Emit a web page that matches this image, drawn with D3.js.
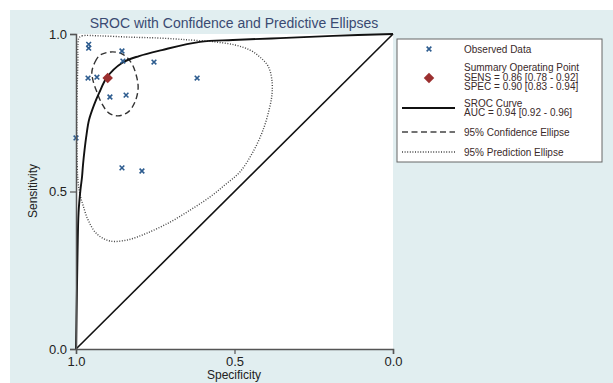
<!DOCTYPE html>
<html lang="en">
<head>
<meta charset="UTF-8">
<title>SROC with Confidence and Predictive Ellipses</title>
<script src="https://d3js.org/d3.v7.min.js"></script>
<style>
    body { margin: 0; background: #ffffff; font-family: Arial, "Liberation Sans", sans-serif; }
    svg { display: block; }
</style>
</head>
<body>
<script>
// observed studies: [specificity, sensitivity]
const observed = [
    [0.960, 0.967], [0.960, 0.955], [0.855, 0.946], [0.852, 0.914],
    [0.754, 0.911], [0.962, 0.860], [0.934, 0.863], [0.618, 0.860],
    [0.893, 0.800], [0.842, 0.806], [1.000, 0.670], [0.855, 0.575],
    [0.792, 0.565]
];

const summaryPoint = [0.90, 0.86];

// SROC curve
const srocCurve = [
    [1.000, 0.000], [0.9975, 0.156], [0.995, 0.314], [0.992, 0.432],
    [0.986, 0.505], [0.981, 0.546], [0.978, 0.584], [0.973, 0.632],
    [0.967, 0.679], [0.959, 0.727], [0.943, 0.775], [0.927, 0.813],
    [0.902, 0.863], [0.855, 0.908], [0.801, 0.930], [0.729, 0.949],
    [0.609, 0.975], [0.505, 0.981], [0.356, 0.987], [0.189, 0.994],
    [0.000, 1.000]
];

const confEllipse = [
    [0.950, 0.879], [0.940, 0.911], [0.924, 0.933], [0.890, 0.943],
    [0.855, 0.937], [0.827, 0.911], [0.811, 0.873], [0.804, 0.829],
    [0.814, 0.784], [0.836, 0.752], [0.868, 0.740], [0.896, 0.749],
    [0.918, 0.778], [0.934, 0.816], [0.946, 0.851]
];

const predEllipse = [
    [0.991, 0.987], [0.981, 0.994], [0.924, 0.994], [0.830, 0.990],
    [0.735, 0.987], [0.640, 0.981], [0.562, 0.975], [0.498, 0.965],
    [0.451, 0.949], [0.420, 0.927], [0.394, 0.898], [0.382, 0.854],
    [0.382, 0.806], [0.391, 0.759], [0.410, 0.695], [0.442, 0.625],
    [0.483, 0.562], [0.530, 0.521], [0.577, 0.483], [0.640, 0.441],
    [0.703, 0.403], [0.776, 0.368], [0.839, 0.346], [0.893, 0.343],
    [0.934, 0.365], [0.962, 0.410], [0.978, 0.457], [0.987, 0.489],
    [0.994, 0.537], [0.997, 0.632], [0.997, 0.790], [0.994, 0.917],
    [0.994, 0.965]
];

const tickValues = [0, 0.5, 1];

const legendRows = [
    { type: "observed", lines: ["Observed Data"] },
    { type: "summary", lines: ["Summary Operating Point", "SENS = 0.86 [0.78 - 0.92]", "SPEC = 0.90 [0.83 - 0.94]"] },
    { type: "sroc", lines: ["SROC Curve", "AUC = 0.94 [0.92 - 0.96]"] },
    { type: "conf", lines: ["95% Confidence Ellipse"] },
    { type: "pred", lines: ["95% Prediction Ellipse"] }
];

const W = 613, H = 383;
const plot = { left: 76, right: 393, top: 34, bottom: 349 };

const svg = d3.select("body").append("svg")
    .attr("width", W)
    .attr("height", H);

// light backdrop with white strip top/left
svg.append("rect")
    .attr("x", 10).attr("y", 10)
    .attr("width", W - 10).attr("height", H - 10)
    .attr("fill", "#e1eef0");

svg.append("rect")
    .attr("x", plot.left).attr("y", plot.top)
    .attr("width", plot.right - plot.left)
    .attr("height", plot.bottom - plot.top)
    .attr("fill", "#ffffff");

const x = d3.scaleLinear().domain([1, 0]).range([plot.left, plot.right]);
const y = d3.scaleLinear().domain([0, 1]).range([plot.bottom, plot.top]);

const line = d3.line()
    .x(d => x(d[0]))
    .y(d => y(d[1]));

// chance diagonal
svg.append("path")
    .datum([[1, 0], [0, 1]])
    .attr("d", line)
    .attr("fill", "none")
    .attr("stroke", "#111")
    .attr("stroke-width", 1.6);

// prediction region
svg.append("path")
    .datum(predEllipse)
    .attr("d", line.curve(d3.curveCatmullRomClosed))
    .attr("fill", "none")
    .attr("stroke", "#444")
    .attr("stroke-width", 1.4)
    .attr("stroke-dasharray", "1,1.6");

// confidence region
svg.append("path")
    .datum(confEllipse)
    .attr("d", line.curve(d3.curveCatmullRomClosed))
    .attr("fill", "none")
    .attr("stroke", "#333")
    .attr("stroke-width", 1.4)
    .attr("stroke-dasharray", "6,3.5");

// SROC curve
svg.append("path")
    .datum(srocCurve)
    .attr("d", line.curve(d3.curveCatmullRom))
    .attr("fill", "none")
    .attr("stroke", "#111")
    .attr("stroke-width", 1.9);

// observed studies
const cross = d3.symbol().type(d3.symbolTimes).size(16);
const drawCross = sel => sel
    .attr("d", cross)
    .attr("fill", "none")
    .attr("stroke", "#2d5c8f")
    .attr("stroke-width", 1.6);

svg.append("g").selectAll("path")
    .data(observed)
    .join("path")
    .attr("transform", d => `translate(${x(d[0])},${y(d[1])})`)
    .call(drawCross);

// summary operating point
const diamond = d3.symbol().type(d3.symbolDiamond2).size(70);
svg.append("path")
    .attr("transform", `translate(${x(summaryPoint[0])},${y(summaryPoint[1])})`)
    .attr("d", diamond)
    .attr("fill", "#9b2f2f");

// axes
const yAxis = svg.append("g")
    .attr("transform", `translate(${plot.left},0)`)
    .call(d3.axisLeft(y).tickValues(tickValues).tickFormat(d3.format(".1f")).tickSize(6).tickPadding(3));

const xAxis = svg.append("g")
    .attr("transform", `translate(0,${plot.bottom})`)
    .call(d3.axisBottom(x).tickValues(tickValues).tickFormat(d3.format(".1f")).tickSize(5).tickPadding(3));

[yAxis, xAxis].forEach(a => {
    a.select(".domain").attr("stroke", "#555").attr("stroke-width", 1.5);
    a.selectAll(".tick line").attr("stroke", "#555").attr("stroke-width", 1.2);
    a.selectAll(".tick text")
        .attr("fill", "#222")
        .style("font-family", "Arial, 'Liberation Sans', sans-serif")
        .style("font-size", "13px");
});

// titles
svg.append("text")
    .attr("x", 234).attr("y", 28)
    .attr("text-anchor", "middle")
    .attr("fill", "#3a4a72")
    .style("font-size", "14px")
    .text("SROC with Confidence and Predictive Ellipses");

svg.append("text")
    .attr("x", 234).attr("y", 379)
    .attr("text-anchor", "middle")
    .attr("fill", "#222")
    .style("font-size", "12px")
    .text("Specificity");

svg.append("text")
    .attr("transform", `translate(37,191) rotate(-90)`)
    .attr("text-anchor", "middle")
    .attr("fill", "#222")
    .style("font-size", "12px")
    .text("Sensitivity");

// legend
const legend = svg.append("g");
legend.append("rect")
    .attr("x", 397).attr("y", 39)
    .attr("width", 205).attr("height", 123)
    .attr("fill", "#ffffff")
    .attr("stroke", "#666")
    .attr("stroke-width", 1);

const rowY = [49, 77, 108, 132, 152];
const lineGap = 9.7;
const keyX = 429, textX = 464;

legendRows.forEach((row, i) => {
    const cy = rowY[i];
    const g = legend.append("g");
    if (row.type === "observed") {
        g.append("path").attr("transform", `translate(${keyX},${cy})`).call(drawCross);
    } else if (row.type === "summary") {
        g.append("path").attr("transform", `translate(${keyX},${cy + 1})`).attr("d", diamond).attr("fill", "#9b2f2f");
    } else {
        const dash = row.type === "conf" ? "6,3.5" : row.type === "pred" ? "1,1.6" : null;
        g.append("line")
            .attr("x1", 402).attr("x2", 455)
            .attr("y1", cy).attr("y2", cy)
            .attr("stroke", row.type === "sroc" ? "#111" : "#444")
            .attr("stroke-width", row.type === "sroc" ? 1.9 : 1.4)
            .attr("stroke-dasharray", dash);
    }
    const n = row.lines.length;
    row.lines.forEach((t, j) => {
        g.append("text")
            .attr("x", textX)
            .attr("y", cy + (j - (n - 1) / 2) * lineGap)
            .attr("dy", "0.35em")
            .attr("fill", "#3a2a2a")
            .style("font-size", "10px")
            .text(t);
    });
});
</script>
</body>
</html>
